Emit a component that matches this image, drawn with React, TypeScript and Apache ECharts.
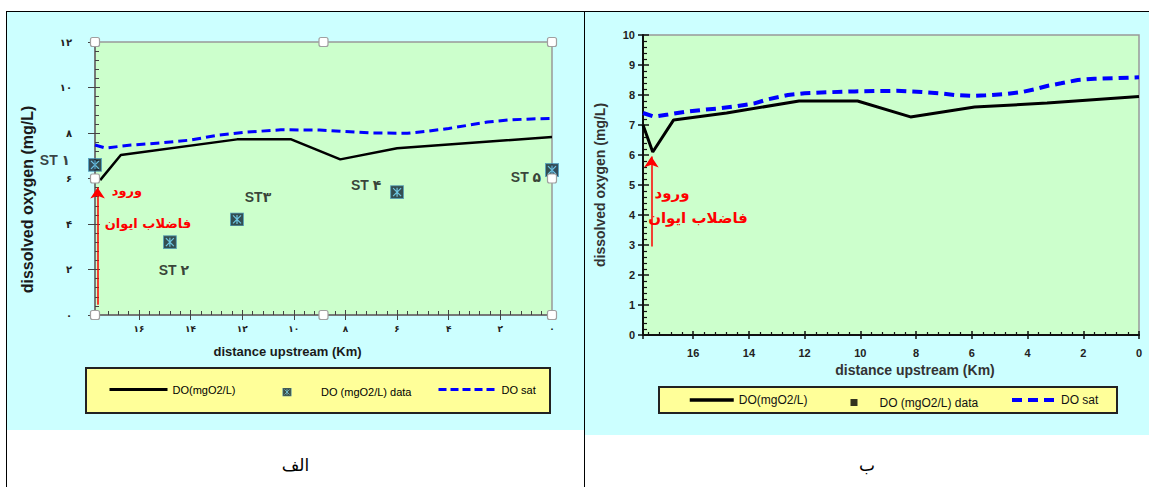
import React, { useEffect, useRef } from 'react';
import * as echarts from 'echarts';

// ---------------- data: panel "الف" (left) ----------------
const leftModelKm = [17.5, 16.7, 12.2, 10.1, 8.2, 6.0, 0];
const leftModelDO = [5.93, 7.03, 7.72, 7.72, 6.84, 7.33, 7.82];
const leftSatKm = [17.7, 17.3, 16.3, 15.2, 14.0, 12.9, 11.8, 10.5, 9.0, 8.2, 7.0, 5.6, 4.8, 4.0, 3.3, 2.5, 1.7, 0.8, 0];
const leftSatDO = [7.47, 7.34, 7.47, 7.56, 7.69, 7.91, 8.04, 8.14, 8.13, 8.08, 8.0, 7.99, 8.08, 8.2, 8.33, 8.48, 8.57, 8.62, 8.64];
const stationNames = ['ST ۱', 'ST ۲', 'ST۳', 'ST ۴', 'ST ۵'];
const stationKm = [17.7, 14.8, 12.2, 6.0, 0];
const stationDO = [6.6, 3.2, 4.2, 5.4, 6.37];
const leftArrowKm = 17.6;
const leftArrowFrom = 0.45;
const leftArrowTo = 5.6;
const leftXMax = 17.7;
const leftYMax = 12;
const leftXTickLabels = ['۰', '۲', '۴', '۶', '۸', '۱۰', '۱۲', '۱۴', '۱۶'];
const leftYTickLabels = ['۰', '۲', '۴', '۶', '۸', '۱۰', '۱۲'];

// ---------------- data: panel "ب" (right) ----------------
const rightModelKm = [17.8, 17.45, 16.7, 14.8, 12.2, 10.1, 8.2, 5.9, 3.3, 0];
const rightModelDO = [7.0, 6.1, 7.17, 7.4, 7.8, 7.8, 7.27, 7.6, 7.73, 7.95];
const rightSatKm = [17.8, 17.4, 16.9, 16.3, 15.7, 15.0, 14.4, 13.8, 13.3, 12.6, 12.0, 11.2, 10.2, 8.7, 7.8, 7.2, 6.6, 6.0, 5.5, 4.8, 4.2, 3.75, 3.3, 2.8, 2.2, 1.6, 0.9, 0];
const rightSatDO = [7.4, 7.28, 7.35, 7.44, 7.5, 7.56, 7.63, 7.72, 7.86, 8.0, 8.06, 8.09, 8.12, 8.14, 8.1, 8.06, 8.0, 7.97, 7.99, 8.03, 8.1, 8.19, 8.3, 8.39, 8.5, 8.54, 8.56, 8.59];
const rightObsKm: number[] = [];
const rightObsDO: number[] = [];
const rightArrowKm = 17.5;
const rightArrowFrom = 2.95;
const rightArrowTo = 5.95;
const rightXMax = 17.8;
const rightYMax = 10;
const rightXTickLabels = ['0', '2', '4', '6', '8', '10', '12', '14', '16'];
const rightYTickLabels = ['0', '1', '2', '3', '4', '5', '6', '7', '8', '9', '10'];

const seriesNames = ['DO(mgO2/L)', 'DO (mgO2/L) data', 'DO sat'];
const captions = ['الف', 'ب'];
const redTexts = ['ورود', 'فاضلاب ایوان'];
const yTitle = 'dissolved oxygen (mg/L)';
const xTitle = 'distance upstream (Km)';

// ---------------- styling ----------------
const LAT = 'Arial, "Liberation Sans", "DejaVu Sans", sans-serif';
const FA = '"DejaVu Sans", sans-serif';

const markerSvg =
  "<svg xmlns='http://www.w3.org/2000/svg' width='28' height='28' viewBox='0 0 14 14'>" +
  "<rect x='0.5' y='0.5' width='13' height='13' fill='#0e2233' stroke='#3f8fb5' stroke-width='1'/>" +
  "<path d='M3 3L11 11M11 3L3 11M7 2.5V11.5' stroke='#56b9e6' stroke-width='1.2' fill='none'/></svg>";
const markerSymbol = 'image://data:image/svg+xml;charset=utf-8,' + encodeURIComponent(markerSvg);

const zip = (a: number[], b: number[]) => a.map((v, i) => [v, b[i]]);

const labelFrom = (labels: string[], step: number) => (v: number) => {
  const i = Math.round(v / step);
  return Math.abs(v - i * step) < 1e-6 ? labels[i] ?? '' : '';
};

const stationLabelOffsets = [
  [-40, -5],
  [4, 28],
  [21, -22],
  [-31, -7],
  [-26, 7],
];

function buildLeft(): any {
  const g = { left: 88, top: 30, width: 457, height: 273 };
  const handles: any[] = [];
  const hx = [g.left, g.left + g.width / 2, g.left + g.width];
  const hy = [g.top, g.top + g.height / 2, g.top + g.height];
  hx.forEach((x, i) =>
    hy.forEach((y, j) => {
      if (i === 1 && j === 1) return;
      handles.push({
        type: 'rect',
        z: 100,
        shape: { x: x - 4.5, y: y - 4.5, width: 9, height: 9, r: 2 },
        style: { fill: '#ffffff', stroke: '#a0a0a0', lineWidth: 1.2 },
      });
    })
  );
  const legendText = { fontSize: 11, color: '#000', fontFamily: LAT };
  return {
    animation: false,
    backgroundColor: '#ccffff',
    grid: { ...g, show: true, backgroundColor: '#ccffcc', borderColor: '#999', borderWidth: 1.5 },
    xAxis: [
      {
        type: 'value',
        inverse: true,
        min: 0,
        max: leftXMax,
        interval: 2,
        position: 'bottom',
        axisLine: { show: true, onZero: false, lineStyle: { color: '#666', width: 1.5 } },
        axisTick: { show: true, inside: true, length: 5, lineStyle: { color: '#444' } },
        minorTick: { show: true, splitNumber: 5, length: 4, lineStyle: { color: '#444' } },
        splitLine: { show: false },
        axisLabel: { formatter: labelFrom(leftXTickLabels, 2), fontSize: 9, fontWeight: 'bold', color: '#222', margin: 9, fontFamily: FA },
        name: xTitle,
        nameLocation: 'middle',
        nameGap: 30,
        nameTextStyle: { fontSize: 13, fontWeight: 'bold', color: '#1a1a1a', fontFamily: LAT, padding: [0, 72, 0, 0] },
      },
      {
        type: 'value',
        inverse: true,
        min: 0,
        max: leftXMax,
        interval: 2,
        position: 'bottom',
        axisLine: { show: false, onZero: false },
        axisTick: { show: true, inside: false, length: 5, lineStyle: { color: '#444' } },
        axisLabel: { show: false },
        splitLine: { show: false },
      },
    ],
    yAxis: [
      {
        type: 'value',
        min: 0,
        max: leftYMax,
        interval: 2,
        position: 'left',
        axisLine: { show: true, onZero: false, lineStyle: { color: '#666', width: 1.5 } },
        axisTick: { show: true, inside: true, length: 5, lineStyle: { color: '#444' } },
        minorTick: { show: true, splitNumber: 5, length: 4, lineStyle: { color: '#444' } },
        splitLine: { show: false },
        axisLabel: { formatter: labelFrom(leftYTickLabels, 2), fontSize: 10, fontWeight: 'bold', color: '#222', margin: 23, fontFamily: FA },
        name: yTitle,
        nameLocation: 'middle',
        nameRotate: 90,
        nameGap: 60,
        nameTextStyle: { fontSize: 16, fontWeight: 'bold', color: '#1a1a1a', fontFamily: LAT, padding: [0, 42, 0, 0] },
      },
      {
        type: 'value',
        min: 0,
        max: leftYMax,
        interval: 2,
        position: 'left',
        axisLine: { show: false, onZero: false },
        axisTick: { show: true, inside: false, length: 7, lineStyle: { color: '#444' } },
        axisLabel: { show: false },
        splitLine: { show: false },
      },
    ],
    legend: [
      {
        data: [seriesNames[0]], left: 101, top: 372, itemWidth: 58, itemHeight: 14, padding: 0, selectedMode: false,
        itemStyle: { opacity: 0 }, lineStyle: { width: 3 }, textStyle: legendText,
      },
      { data: [seriesNames[1]], left: 251, top: 374.5, itemWidth: 58, itemHeight: 9, padding: 0, selectedMode: false, textStyle: legendText },
      {
        data: [seriesNames[2]], left: 430, top: 372, itemWidth: 58, itemHeight: 14, padding: 0, selectedMode: false,
        itemStyle: { opacity: 0 }, lineStyle: { width: 3, type: [8, 4] }, textStyle: legendText,
      },
    ],
    series: [
      {
        name: seriesNames[0],
        type: 'line',
        data: zip(leftModelKm, leftModelDO),
        symbol: 'none',
        color: '#000',
        lineStyle: { color: '#000', width: 2.5 },
        z: 3,
        markLine: {
          silent: true,
          symbol: ['none', 'arrow'],
          symbolSize: 11,
          label: { show: false },
          lineStyle: { color: '#ff0000', width: 1.5, type: 'solid' },
          data: [[{ coord: [leftArrowKm, leftArrowFrom] }, { coord: [leftArrowKm, leftArrowTo] }]],
        },
      },
      {
        name: seriesNames[2],
        type: 'line',
        data: zip(leftSatKm, leftSatDO),
        symbol: 'none',
        color: '#0000ff',
        lineStyle: { color: '#0000ff', width: 3, type: [9, 5] },
        z: 3,
      },
      {
        name: seriesNames[1],
        type: 'scatter',
        symbol: markerSymbol,
        symbolSize: 14,
        symbolKeepAspect: true,
        clip: false,
        z: 5,
        color: '#0e2233',
        data: stationNames.map((n, i) => ({
          name: n,
          value: [stationKm[i], stationDO[i]],
          label: { offset: stationLabelOffsets[i] },
        })),
        label: {
          show: true,
          position: 'inside',
          formatter: (p: any) => p.name,
          fontSize: 14,
          fontWeight: 'bold',
          color: '#111',
          fontFamily: LAT,
        },
      },
    ],
    graphic: [
      {
        type: 'rect',
        z: 0,
        shape: { x: 79, y: 356, width: 464, height: 45 },
        style: { fill: '#ffff99', stroke: '#222', lineWidth: 2 },
      },
      ...handles,
      {
        type: 'text',
        z: 50,
        x: 120,
        y: 178,
        style: { text: redTexts[0], fill: '#ff0000', fontSize: 13, fontWeight: 'bold', fontFamily: FA, align: 'center', verticalAlign: 'middle' },
      },
      {
        type: 'text',
        z: 50,
        x: 141,
        y: 211,
        style: { text: redTexts[1], fill: '#ff0000', fontSize: 13, fontWeight: 'bold', fontFamily: FA, align: 'center', verticalAlign: 'middle' },
      },
    ],
  };
}

function buildRight(): any {
  const g = { left: 52, top: 23, width: 502, height: 300 };
  const legendText = { fontSize: 12, color: '#111', fontFamily: LAT };
  return {
    animation: false,
    backgroundColor: '#ccffff',
    grid: { ...g, show: true, backgroundColor: '#ccffcc', borderColor: '#999', borderWidth: 1.5 },
    xAxis: [
      {
        type: 'value',
        inverse: true,
        min: 0,
        max: rightXMax,
        interval: 2,
        position: 'bottom',
        axisLine: { show: true, onZero: false, lineStyle: { color: '#111', width: 2 } },
        axisTick: { show: true, inside: true, length: 4, lineStyle: { color: '#111', width: 1.5 } },
        minorTick: { show: true, splitNumber: 5, length: 3, lineStyle: { color: '#111', width: 1.2 } },
        splitLine: { show: false },
        axisLabel: { formatter: labelFrom(rightXTickLabels, 2), fontSize: 11, fontWeight: 'bold', color: '#222', margin: 12, fontFamily: LAT },
        name: xTitle,
        nameLocation: 'middle',
        nameGap: 26,
        nameTextStyle: { fontSize: 14, fontWeight: 'bold', color: '#333', fontFamily: LAT, padding: [0, 0, 0, 48] },
      },
      {
        type: 'value',
        inverse: true,
        min: 0,
        max: rightXMax,
        interval: 2,
        position: 'bottom',
        axisLine: { show: false, onZero: false },
        axisTick: { show: true, inside: false, length: 4, lineStyle: { color: '#111', width: 1.5 } },
        axisLabel: { show: false },
        splitLine: { show: false },
      },
    ],
    yAxis: [
      {
        type: 'value',
        min: 0,
        max: rightYMax,
        interval: 1,
        position: 'left',
        axisLine: { show: true, onZero: false, lineStyle: { color: '#111', width: 2 } },
        axisTick: { show: true, inside: true, length: 6, lineStyle: { color: '#111', width: 1.5 } },
        minorTick: { show: true, splitNumber: 5, length: 4, lineStyle: { color: '#111', width: 1.2 } },
        splitLine: { show: false },
        axisLabel: { formatter: labelFrom(rightYTickLabels, 1), fontSize: 11, fontWeight: 'bold', color: '#222', margin: 8, fontFamily: LAT },
        name: yTitle,
        nameLocation: 'middle',
        nameRotate: 90,
        nameGap: 36,
        nameTextStyle: { fontSize: 14, fontWeight: 'bold', color: '#333', fontFamily: LAT },
      },
      {
        type: 'value',
        min: 0,
        max: rightYMax,
        interval: 1,
        position: 'left',
        axisLine: { show: false, onZero: false },
        axisTick: { show: true, inside: false, length: 5, lineStyle: { color: '#111', width: 1.5 } },
        axisLabel: { show: false },
        splitLine: { show: false },
      },
    ],
    legend: [
      {
        data: [seriesNames[0]], left: 103, top: 382, itemWidth: 44, itemHeight: 12, padding: 0, selectedMode: false,
        itemStyle: { opacity: 0 }, lineStyle: { width: 3.5 }, textStyle: legendText,
      },
      {
        data: [seriesNames[1]], left: 265.5, top: 384.5, itemWidth: 7, itemHeight: 7, padding: 0, selectedMode: false,
        textStyle: { ...legendText, padding: [0, 0, 0, 17] },
      },
      {
        data: [seriesNames[2]], left: 425, top: 382, itemWidth: 44, itemHeight: 12, padding: 0, selectedMode: false,
        itemStyle: { opacity: 0 }, lineStyle: { width: 4, type: [10, 6] }, textStyle: legendText,
      },
    ],
    series: [
      {
        name: seriesNames[0],
        type: 'line',
        data: zip(rightModelKm, rightModelDO),
        symbol: 'none',
        color: '#000',
        lineStyle: { color: '#000', width: 3 },
        z: 3,
        markLine: {
          silent: true,
          symbol: ['none', 'arrow'],
          symbolSize: 11,
          label: { show: false },
          lineStyle: { color: '#ff0000', width: 1.5, type: 'solid' },
          data: [[{ coord: [rightArrowKm, rightArrowFrom] }, { coord: [rightArrowKm, rightArrowTo] }]],
        },
      },
      {
        name: seriesNames[2],
        type: 'line',
        data: zip(rightSatKm, rightSatDO),
        symbol: 'none',
        color: '#0000ff',
        lineStyle: { color: '#0000ff', width: 4, type: [10, 6] },
        z: 3,
      },
      {
        name: seriesNames[1],
        type: 'scatter',
        symbol: 'rect',
        symbolSize: 7,
        symbolKeepAspect: true,
        color: '#000',
        clip: false,
        data: zip(rightObsKm, rightObsDO),
      },
    ],
    graphic: [
      {
        type: 'rect',
        z: 0,
        shape: { x: 74, y: 375, width: 458, height: 26 },
        style: { fill: '#ffff99', stroke: '#222', lineWidth: 2 },
      },
      {
        type: 'text',
        z: 50,
        x: 87,
        y: 181,
        style: { text: redTexts[0], fill: '#ff0000', fontSize: 15, fontWeight: 'bold', fontFamily: FA, align: 'center', verticalAlign: 'middle' },
      },
      {
        type: 'text',
        z: 50,
        x: 113,
        y: 206,
        style: { text: redTexts[1], fill: '#ff0000', fontSize: 15, fontWeight: 'bold', fontFamily: FA, align: 'center', verticalAlign: 'middle' },
      },
    ],
  };
}

export default function App() {
  const leftRef = useRef<HTMLDivElement>(null);
  const rightRef = useRef<HTMLDivElement>(null);

  useEffect(() => {
    const c1 = echarts.init(leftRef.current as HTMLDivElement, null, { renderer: 'svg' });
    c1.setOption(buildLeft());
    const c2 = echarts.init(rightRef.current as HTMLDivElement, null, { renderer: 'svg' });
    c2.setOption(buildRight());
    return () => {
      c1.dispose();
      c2.dispose();
    };
  }, []);

  const line = (s: React.CSSProperties) => <div style={{ position: 'absolute', background: '#000', ...s }} />;
  const caption = (text: string, left: number, width: number) => (
    <div
      style={{
        position: 'absolute',
        left,
        width,
        top: 452,
        height: 26,
        lineHeight: '26px',
        textAlign: 'center',
        fontSize: 17,
        fontFamily: FA,
        color: '#000',
        direction: 'rtl',
      }}
    >
      {text}
    </div>
  );

  return (
    <div style={{ position: 'absolute', left: 0, top: 0, width: 1149, height: 487, background: '#fff', overflow: 'hidden' }}>
      <div ref={leftRef} style={{ position: 'absolute', left: 7, top: 12, width: 577, height: 418 }} />
      <div ref={rightRef} style={{ position: 'absolute', left: 585, top: 12, width: 564, height: 423 }} />
      {line({ left: 6, top: 11, width: 1143, height: 1 })}
      {line({ left: 6, top: 11, width: 1, height: 476 })}
      {line({ left: 584, top: 11, width: 1, height: 476 })}
      {caption(captions[0], 7, 577)}
      {caption(captions[1], 585, 564)}
    </div>
  );
}
